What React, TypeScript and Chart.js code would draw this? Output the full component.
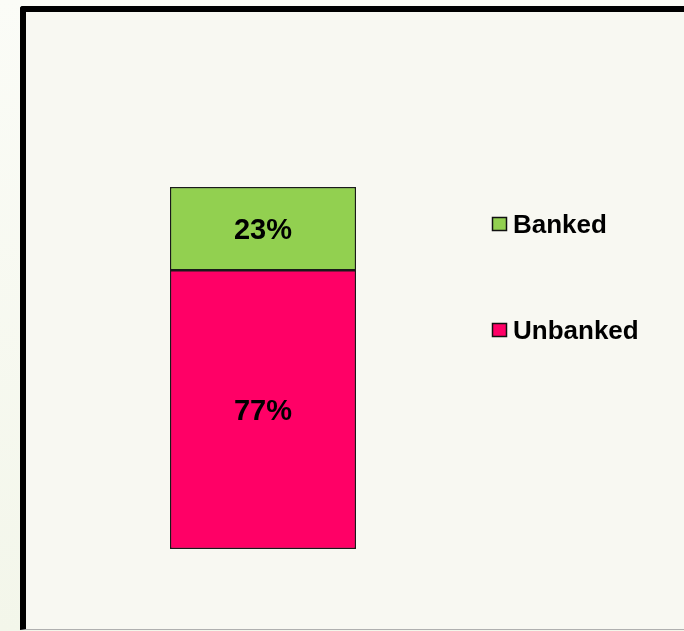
import React, { useEffect, useRef } from "react";
import { Chart, registerables } from "chart.js";

Chart.register(...registerables);

const categories = ["Population"];
const seriesLabels = ["Unbanked", "Banked"];
const unbankedValues = [77];
const bankedValues = [23];
const seriesColors = ["#ff0066", "#92d050"];
const legendOrder = ["Banked", "Unbanked"];

const FONT = "'Liberation Sans', Arial, sans-serif";

const labelPlugin = {
  id: "barLabels",
  afterDatasetsDraw(chart: any) {
    const ctx = chart.ctx;
    ctx.save();
    ctx.font = `bold 29px ${FONT}`;
    ctx.fillStyle = "#000";
    ctx.textAlign = "center";
    ctx.textBaseline = "middle";
    chart.data.datasets.forEach((ds: any, i: number) => {
      const meta = chart.getDatasetMeta(i);
      meta.data.forEach((el: any, j: number) => {
        const v = ds.data[j];
        const { x, y, base } = el.getProps(["x", "y", "base"], true);
        ctx.fillText(`${v}%`, x, (y + base) / 2 + 2);
      });
    });
    ctx.restore();
  },
};

const legendPlugin = {
  id: "customLegend",
  afterDraw(chart: any) {
    const ctx = chart.ctx;
    ctx.save();
    const x0 = 492;
    const ys = [224, 330];
    legendOrder.forEach((name, k) => {
      const idx = chart.data.datasets.findIndex((d: any) => d.label === name);
      const ds = chart.data.datasets[idx];
      const cy = ys[k];
      ctx.fillStyle = ds.backgroundColor;
      ctx.fillRect(x0, cy - 7, 15, 14);
      ctx.strokeStyle = "#111";
      ctx.lineWidth = 1.5;
      ctx.strokeRect(x0 + 0.5, cy - 6.5, 14, 13);
      ctx.fillStyle = "#000";
      ctx.font = `bold 26px ${FONT}`;
      ctx.textAlign = "left";
      ctx.textBaseline = "middle";
      ctx.fillText(name, x0 + 21, cy + 1.5);
    });
    ctx.restore();
  },
};

export default function App() {
  const ref = useRef<HTMLCanvasElement>(null);
  useEffect(() => {
    if (!ref.current) return;
    const chart = new Chart(ref.current, {
      type: "bar",
      data: {
        labels: categories,
        datasets: [
          {
            label: seriesLabels[0],
            data: unbankedValues,
            backgroundColor: seriesColors[0],
            borderColor: "#1a1a1a",
            borderWidth: 1.5,
            borderSkipped: false,
          },
          {
            label: seriesLabels[1],
            data: bankedValues,
            backgroundColor: seriesColors[1],
            borderColor: "#1a1a1a",
            borderWidth: 1.5,
            borderSkipped: false,
          },
        ],
      },
      options: {
        animation: false,
        responsive: false,
        maintainAspectRatio: false,
        layout: { padding: { left: 170, right: 328, top: 187, bottom: 82 } },
        datasets: { bar: { barPercentage: 1, categoryPercentage: 1 } },
        scales: {
          x: { stacked: true, display: false },
          y: { stacked: true, display: false, min: 0, max: 100 },
        },
        plugins: {
          legend: { display: false },
          tooltip: { enabled: false },
        },
      },
      plugins: [labelPlugin, legendPlugin],
    });
    return () => chart.destroy();
  }, []);

  return (
    <div
      style={{
        position: "absolute",
        left: 0,
        top: 0,
        width: 684,
        height: 631,
        overflow: "hidden",
        background: "linear-gradient(180deg, #fbfcf7 0%, #f3f6ea 100%)",
      }}
    >
      <div
        style={{
          position: "absolute",
          left: 20,
          top: 6,
          width: 700,
          height: 624,
          boxSizing: "border-box",
          borderLeft: "6px solid #000",
          borderTop: "6px solid #000",
          borderBottom: "1px solid #b0b0b0",
          borderTopLeftRadius: 3,
          background: "#f8f8f2",
        }}
      />
      <canvas
        ref={ref}
        width={684}
        height={631}
        style={{ position: "absolute", left: 0, top: 0, width: 684, height: 631 }}
      />
    </div>
  );
}
